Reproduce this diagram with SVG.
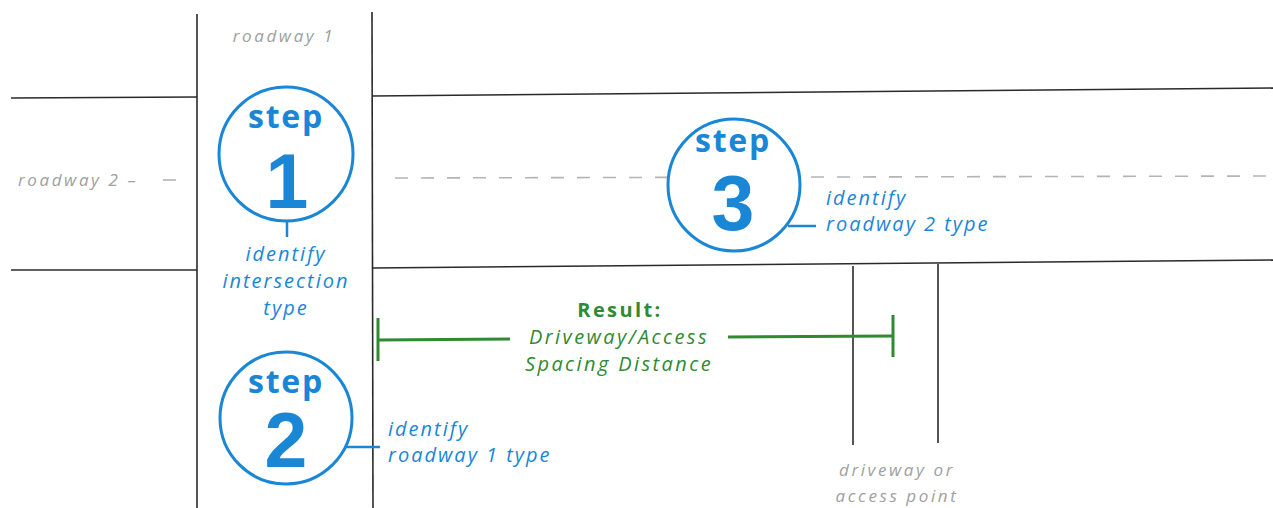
<svg xmlns="http://www.w3.org/2000/svg" width="1273" height="508" viewBox="0 0 1273 508">
<style>
.road{stroke:#2a2a2a;stroke-width:1.6;fill:none}
.center{stroke:#b4b4b4;stroke-width:1.6;stroke-dasharray:13 13;fill:none}
.ring{stroke:#1a86d6;stroke-width:3;fill:#fff}
.lead{stroke:#1a86d6;stroke-width:2.5;fill:none}
.step{font-family:"Open Sans",sans-serif;font-weight:700;fill:#1a86d6;text-anchor:middle;font-size:32px;letter-spacing:1.8px}
.num{font-family:"Liberation Sans",Arial,sans-serif;font-weight:700;fill:#1a86d6;text-anchor:middle;font-size:77px}
.desc{font-family:"Open Sans",sans-serif;font-style:italic;font-size:20px;fill:#1a86d6;letter-spacing:2px}
.gray{font-family:"Open Sans",sans-serif;font-style:italic;font-size:17px;fill:#a0a0a0;letter-spacing:2.6px}
.green{stroke:#2f8a32;stroke-width:3;fill:none}
.gtext{font-family:"Open Sans",sans-serif;font-size:20px;fill:#2f8a32;text-anchor:middle;letter-spacing:2.4px}
</style>
<rect width="1273" height="508" fill="#fff"/>
<g id="roads">
<line class="road" x1="197" y1="14" x2="197" y2="508"/>
<line class="road" x1="372" y1="12" x2="373" y2="508"/>
<line class="road" x1="11" y1="98" x2="197" y2="97"/>
<line class="road" x1="11" y1="270" x2="197" y2="270"/>
<line class="road" x1="372" y1="96" x2="1273" y2="88"/>
<line class="road" x1="372" y1="268" x2="1273" y2="260"/>
<line class="road" x1="853" y1="266" x2="853" y2="445"/>
<line class="road" x1="938" y1="264" x2="938" y2="443"/>
<line class="center" x1="395" y1="178" x2="1273" y2="176"/>
<line class="center" x1="163" y1="180" x2="182" y2="180"/>
</g>
<g id="labels">
<text class="gray" x="284" y="42" text-anchor="middle">roadway 1</text>
<text class="gray" x="18" y="186">roadway 2 –</text>
<text class="gray" x="897" y="476" text-anchor="middle">driveway or</text>
<text class="gray" x="897" y="502" text-anchor="middle">access point</text>
</g>
<g id="connectors">
<line class="lead" x1="287" y1="221" x2="287" y2="237"/>
<line class="lead" x1="343" y1="447" x2="380" y2="447"/>
<line class="lead" x1="788" y1="226" x2="816" y2="226"/>
<line class="green" x1="378" y1="340" x2="510" y2="339"/>
<line class="green" x1="728" y1="337" x2="893" y2="336"/>
<line class="green" x1="378" y1="318" x2="378" y2="361" stroke-width="4"/>
<line class="green" x1="893" y1="315" x2="893" y2="357" stroke-width="4"/>
</g>
<g id="step1">
<circle class="ring" cx="286" cy="154" r="67"/>
<text class="step" x="286" y="128">step</text>
<text class="num" x="287" y="208">1</text>
<text class="desc" text-anchor="middle"><tspan x="286" y="261">identify</tspan><tspan x="286" y="288">intersection</tspan><tspan x="286" y="315">type</tspan></text>
</g>
<g id="step2">
<circle class="ring" cx="286" cy="418" r="66"/>
<text class="step" x="286" y="393">step</text>
<text class="num" x="286" y="467">2</text>
<text class="desc"><tspan x="388" y="436">identify</tspan><tspan x="388" y="462">roadway 1 type</tspan></text>
</g>
<g id="step3">
<circle class="ring" cx="734" cy="185" r="66"/>
<text class="step" x="733" y="152">step</text>
<text class="num" x="733" y="230">3</text>
<text class="desc"><tspan x="826" y="205">identify</tspan><tspan x="826" y="231">roadway 2 type</tspan></text>
</g>
<g id="result">
<text class="gtext" x="620" y="317" font-weight="700" font-size="18">Result:</text>
<text class="gtext" font-style="italic"><tspan x="619" y="344">Driveway/Access</tspan><tspan x="619" y="371">Spacing Distance</tspan></text>
</g>
</svg>
